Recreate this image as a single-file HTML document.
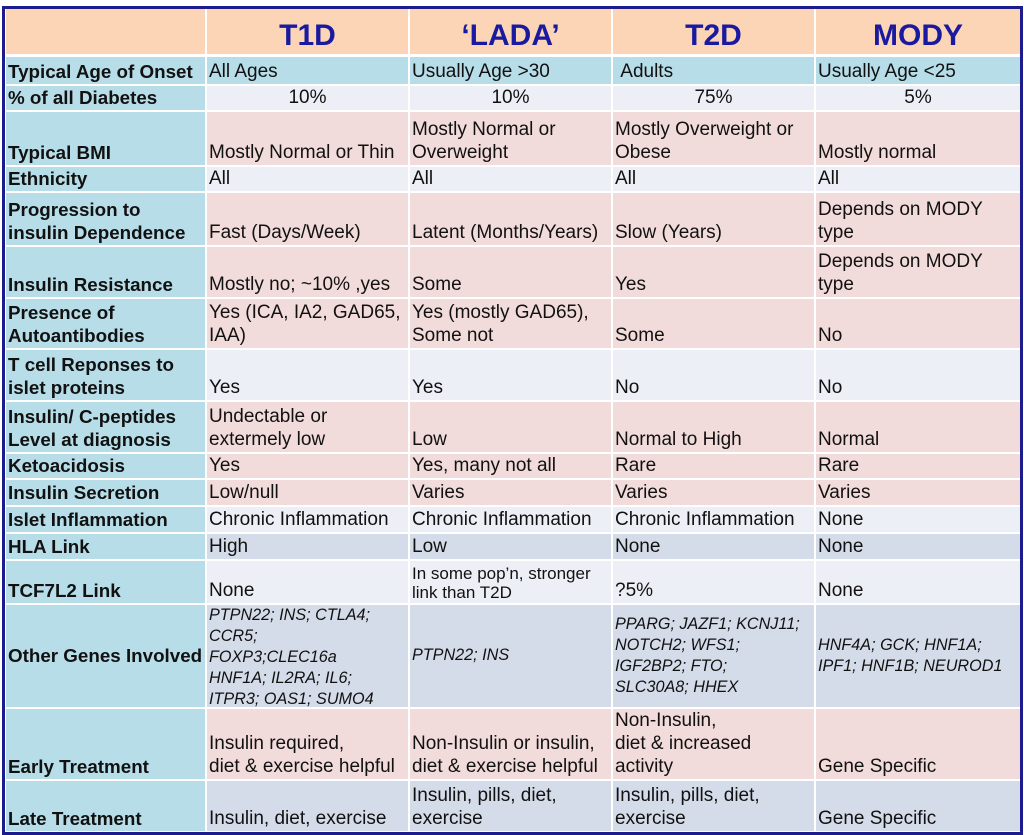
<!DOCTYPE html>
<html><head><meta charset="utf-8"><style>
body{margin:0;width:1024px;height:835px;background:#fff;position:relative;overflow:hidden;font-family:"Liberation Sans",Arial,sans-serif;}
#frame{position:absolute;left:2px;top:6px;width:1015px;height:823px;border:3px solid #1c1c8c;background:#fff;}
.c{position:absolute;box-sizing:border-box;padding:0 2px 1px 2px;display:flex;flex-direction:column;justify-content:flex-end;font-size:19px;line-height:23px;color:#111;white-space:nowrap;letter-spacing:0;}
.l{font-weight:bold;background:#b7dde8;font-size:18.8px;}
.h{background:#fbd5b5;color:#1a1aa0;font-weight:bold;font-size:30px;justify-content:center;align-items:center;padding-top:9px;}
.p{background:#f2dcdb;}
.g{background:#eceff5;}
.b{background:#d5dce9;}
.a{background:#b7dde8;}
.ctr{align-items:center;}
.i{font-style:italic;font-size:16.2px;line-height:21px;justify-content:center;}
.s{font-size:17px;line-height:19px;}
</style></head><body>
<div id="frame"></div>
<div id="t"></div>
<script>
var X=[6,207,410,613,816],W=[199,201,201,201,204];
var rows=[
[9,45,'h',['','T1D','‘LADA’','T2D','MODY']],
[57,27,'a',['Typical Age of Onset','All Ages','Usually Age &gt;30','&nbsp;Adults','Usually Age &lt;25']],
[86,24,'g ctr',['% of all Diabetes','10%','10%','75%','5%']],
[112,53,'p',['Typical BMI','Mostly Normal or Thin','Mostly Normal or<br>Overweight','Mostly Overweight or<br>Obese','Mostly normal']],
[167,24,'g',['Ethnicity','All','All','All','All']],
[193,52,'p',['Progression to<br>insulin Dependence','Fast (Days/Week)','Latent (Months/Years)','Slow (Years)','Depends on MODY<br>type']],
[247,50,'p',['Insulin Resistance','Mostly no; ~10% ,yes','Some','Yes','Depends on MODY<br>type']],
[299,49,'p',['Presence of<br>Autoantibodies','Yes (ICA, IA2, GAD65,<br>IAA)','Yes (mostly GAD65),<br>Some not','Some','No']],
[350,50,'g',['T cell Reponses to<br>islet proteins','Yes','Yes','No','No']],
[402,50,'p',['Insulin/ C-peptides<br>Level at diagnosis','Undectable or<br>extermely low','Low','Normal to High','Normal']],
[454,24,'p',['Ketoacidosis','Yes','Yes, many not all','Rare','Rare']],
[480,25,'p',['Insulin Secretion','Low/null','Varies','Varies','Varies']],
[507,25,'g',['Islet Inflammation','Chronic Inflammation','Chronic Inflammation','Chronic Inflammation','None']],
[534,25,'b',['HLA Link','High','Low','None','None']],
[561,42,'g',['TCF7L2 Link','None','<span class="s">In some pop’n, stronger<br>link than T2D</span>','?5%','None']],
[605,102,'b',['Other Genes Involved','PTPN22; INS; CTLA4;<br>CCR5;<br>FOXP3;CLEC16a<br>HNF1A; IL2RA; IL6;<br>ITPR3; OAS1; SUMO4','PTPN22; INS','PPARG; JAZF1; KCNJ11;<br>NOTCH2; WFS1;<br>IGF2BP2; FTO;<br>SLC30A8; HHEX','HNF4A; GCK; HNF1A;<br>IPF1; HNF1B; NEUROD1']],
[709,70,'p',['Early Treatment','Insulin required,<br>diet &amp; exercise helpful','Non-Insulin or insulin,<br>diet &amp; exercise helpful','Non-Insulin,<br>diet &amp; increased<br>activity','Gene Specific']],
[781,50,'b',['Late Treatment','Insulin, diet, exercise','Insulin, pills, diet,<br>exercise','Insulin, pills, diet,<br>exercise','Gene Specific']]
];
var h='';
rows.forEach(function(r,ri){
 for(var j=0;j<5;j++){
  var cls='c ';
  if(ri==0){cls+='h';}
  else if(j==0){cls+='l';}
  else{cls+=r[2];if(ri==15)cls+=' i';}
  var st='left:'+X[j]+'px;top:'+r[0]+'px;width:'+W[j]+'px;height:'+r[1]+'px;';
  if(ri==15&&j==0){h+='<div class="c l" style="'+st+'justify-content:center;">'+r[3][j]+'</div>';continue;}
  if(ri==15&&j==1){st+='justify-content:flex-start;';}
  if(ri==2&&j==0){cls='c l';}
  h+='<div class="'+cls+'" style="'+st+'">'+r[3][j]+'</div>';
 }
});
document.getElementById('t').innerHTML=h;
</script>
</body></html>
